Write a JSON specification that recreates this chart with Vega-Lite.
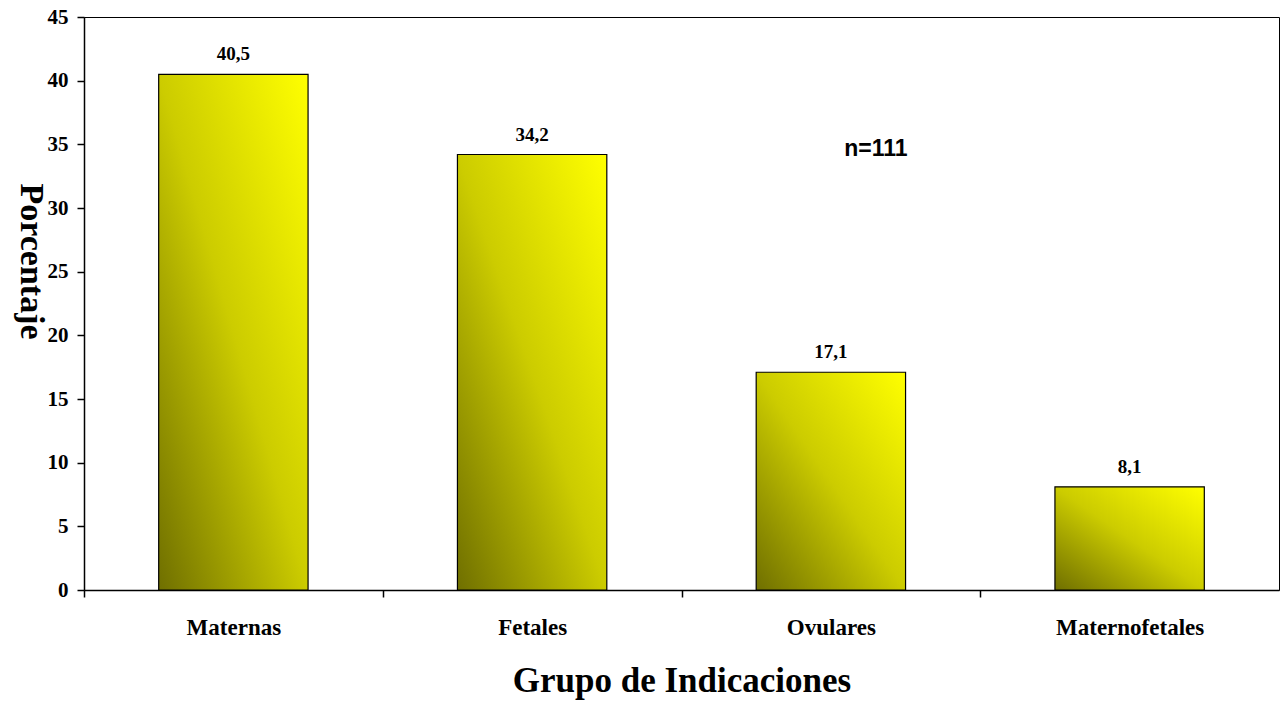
{
  "$schema": "https://vega.github.io/schema/vega-lite/v6.json",
  "autosize": "none",
  "width": 1195,
  "height": 573,
  "padding": {"left": 84, "top": 17, "right": 4, "bottom": 112},
  "background": "white",
  "config": {
    "locale": {"number": {"decimal": ",", "thousands": ".", "grouping": [3], "currency": ["", " €"]}},
    "view": {"stroke": "black", "strokeWidth": 1},
    "axis": {"grid": false, "domainColor": "black", "domainWidth": 1.5, "tickColor": "black", "tickWidth": 1.5, "labelColor": "black", "titleColor": "black", "labelFont": "Liberation Serif", "titleFont": "Liberation Serif", "labelFontWeight": "bold", "titleFontWeight": "bold"}
  },
  "data": {"values": [
    {"grupo": "Maternas", "porcentaje": 40.5},
    {"grupo": "Fetales", "porcentaje": 34.2},
    {"grupo": "Ovulares", "porcentaje": 17.1},
    {"grupo": "Maternofetales", "porcentaje": 8.1}
  ]},
  "encoding": {
    "x": {
      "field": "grupo", "type": "nominal", "sort": null,
      "scale": {"paddingInner": 0, "paddingOuter": 0},
      "axis": {
        "title": "Grupo de Indicaciones", "titleFontSize": 35, "titleY": 90, "titleBaseline": "middle",
        "labelAngle": 0, "labelFontSize": 23, "labelPadding": 19, "tickSize": 7,
        "tickOffset": -149.375, "labelOffset": 149.375
      }
    },
    "y": {
      "field": "porcentaje", "type": "quantitative",
      "scale": {"domain": [0, 45], "nice": false},
      "axis": {
        "title": "Porcentaje", "titleFontSize": 34, "titleX": -54, "titleY": 244, "titleBaseline": "middle", "titleAlign": "center", "titleAngle": 90,
        "values": [0, 5, 10, 15, 20, 25, 30, 35, 40, 45], "labelFontSize": 21, "labelPadding": 9, "tickSize": 7
      }
    }
  },
  "layer": [
    {
      "mark": {
        "type": "bar", "width": {"band": 0.5}, "stroke": "black", "strokeWidth": 1.2,
        "fill": {"gradient": "linear", "x1": 0, "y1": 1, "x2": 1, "y2": 0,
          "stops": [{"offset": 0, "color": "#6f6f00"}, {"offset": 0.5, "color": "#cccc00"}, {"offset": 1, "color": "#ffff00"}]}
      }
    },
    {
      "mark": {"type": "text", "font": "Liberation Serif", "fontWeight": "bold", "fontSize": 19, "baseline": "bottom", "dy": -10, "color": "black"},
      "encoding": {"text": {"field": "porcentaje", "type": "quantitative", "format": ".1f"}}
    },
    {
      "data": {"values": [{"grupo": "Ovulares", "porcentaje": 34.6, "nota": "n=111"}]},
      "mark": {"type": "text", "font": "Liberation Sans", "fontWeight": "bold", "fontSize": 23, "baseline": "middle", "align": "center", "dx": 45, "color": "black"},
      "encoding": {"text": {"field": "nota", "type": "nominal"}}
    }
  ]
}
